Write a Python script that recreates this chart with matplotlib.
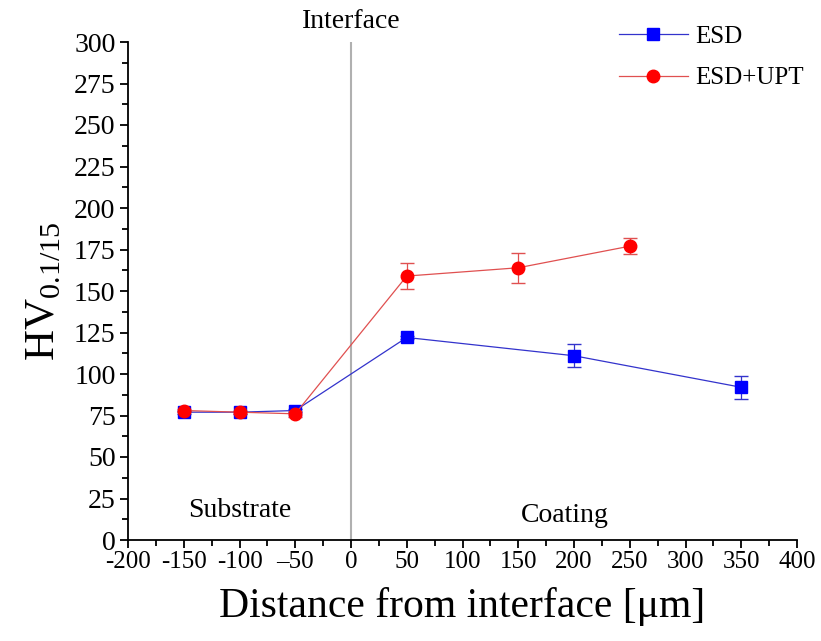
import matplotlib
matplotlib.use("Agg")
import matplotlib.pyplot as plt
from matplotlib.ticker import MultipleLocator
from matplotlib.lines import Line2D

plt.rcParams['font.family'] = ['Liberation Serif', 'DejaVu Serif']
plt.rcParams['mathtext.fontset'] = 'custom'
plt.rcParams['mathtext.rm'] = 'Liberation Serif'

# data
esd_x = [-150, -100, -50, 50, 200, 350]
esd_y = [77, 77, 78, 122, 111, 92]
esd_err = [1, 1, 1, 1, 7, 7]

upt_x = [-150, -100, -50, 50, 150, 250]
upt_y = [78, 77, 76, 159, 164, 177]
upt_err = [1, 1, 2, 8, 9, 5]

xticks = list(range(-200, 401, 50))
xticklabels = ['-200', '-150', '-100', '\u201350', '0', '50', '100',
               '150', '200', '250', '300', '350', '400']

fig = plt.figure(figsize=(8.21, 6.41), dpi=100)
ax = fig.add_axes([128 / 821, 101 / 641, 669 / 821, 498 / 641])

ax.axvline(0, color='#b0b0b0', lw=1.5, zorder=1)

esd_c, esd_m = '#3333cc', 'blue'
upt_c, upt_m = '#e05050', 'red'

ax.errorbar(esd_x, esd_y, yerr=esd_err, color=esd_c, lw=0.9, marker='s', ms=8,
            mfc=esd_m, mec=esd_m, ecolor=esd_c, elinewidth=0.9, capsize=5, zorder=3)
ax.errorbar(upt_x, upt_y, yerr=upt_err, color=upt_c, lw=0.9, marker='o', ms=9,
            mfc=upt_m, mec=upt_m, ecolor=upt_c, elinewidth=0.9, capsize=5, zorder=4)

ax.set_xlim(-200, 400)
ax.set_ylim(0, 300)
ax.set_xticks(xticks)
ax.set_xticklabels(xticklabels)
ax.xaxis.set_minor_locator(MultipleLocator(25))
ax.yaxis.set_major_locator(MultipleLocator(25))
ax.yaxis.set_minor_locator(MultipleLocator(12.5))
ax.tick_params(which='major', direction='out', length=6, width=1.3, labelsize=20, pad=3)
ax.tick_params(which='minor', direction='out', length=4, width=1.3)
ax.tick_params(axis='x', labelsize=18, pad=2)
for s in ['top', 'right']:
    ax.spines[s].set_visible(False)
for s in ['left', 'bottom']:
    ax.spines[s].set_linewidth(1.3)

ax.set_xlabel('Distance from interface [\u03bcm]', fontsize=30, labelpad=10)
ax.set_ylabel(r'HV$_{\mathrm{0.1/15}}$', fontsize=31, labelpad=8)

ax.text(0, 305, 'Interface', ha='center', va='bottom', fontsize=20)
ax.text(-100, 18, 'Substrate', ha='center', va='center', fontsize=20)
ax.text(192, 15, 'Coating', ha='center', va='center', fontsize=20)

handles = [Line2D([], [], color=esd_c, lw=0.9, marker='s', ms=8, mfc=esd_m, mec=esd_m),
           Line2D([], [], color=upt_c, lw=0.9, marker='o', ms=9, mfc=upt_m, mec=upt_m)]
ax.legend(handles, ['ESD', 'ESD+UPT'], loc='upper left', bbox_to_anchor=(0.70, 1.078),
          frameon=False, fontsize=18, handlelength=2.75, handletextpad=0.3,
          labelspacing=0.75)

fig.savefig('out.png', dpi=100)
